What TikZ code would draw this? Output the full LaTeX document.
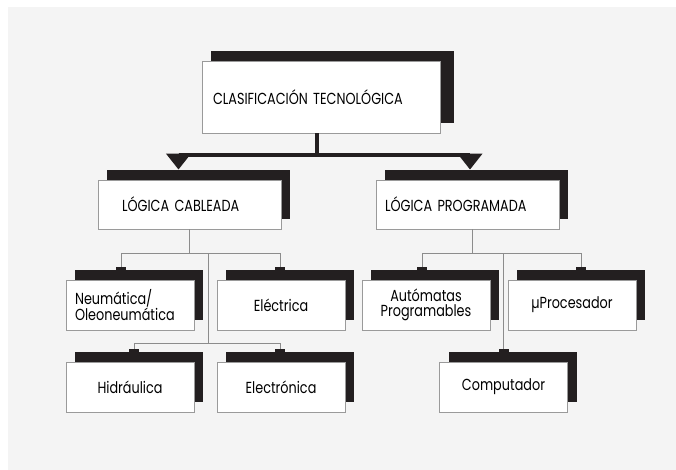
\documentclass[tikz,border=0pt]{standalone}
\usepackage{fontspec}
\setmainfont{Poppins}[FakeStretch=0.8]
\usetikzlibrary{arrows.meta,shadows}
\definecolor{fondo}{HTML}{F4F4F4}
\definecolor{sombra}{HTML}{231F20}
\definecolor{borde}{HTML}{9A9A9A}
\definecolor{linea}{HTML}{8C8C8C}

\begin{document}
\begin{tikzpicture}[x=1pt, y=-1pt,
  caja/.style={draw=borde, line width=0.8pt, fill=white, inner ysep=0pt,
    minimum height=50pt,
    general shadow={fill=sombra, draw=none, shadow xshift=9pt, shadow yshift=10pt}},
  grande/.style={caja, align=left, font=\fontsize{16}{16}\selectfont},
  chica/.style={caja, minimum width=128pt, inner xsep=0pt, align=center,
    font=\fontsize{16}{15}\selectfont},
  bus/.style={line width=4pt, draw=sombra, -{Triangle[length=16pt 0, width=24pt 0]}},
  linea/.style={line width=0.8pt, draw=linea},
  tab/.style={-{Rectangle[length=3pt 0, width=10pt 0, color=sombra]}}]

\useasboundingbox (0, 0) rectangle (676, 470);
\fill[white] (0, 0) rectangle (676, 470);
\fill[fondo] (8, 7) rectangle (676, 470);

\draw (321, 97) node[grande, minimum height=72pt, inner xsep=11pt, text width=216pt,
  general shadow={fill=sombra, shadow xshift=14pt, shadow yshift=10pt}] (clas) {CLASIFICACIÓN TECNOLÓGICA};

\draw (189.5, 204.5) node[grande, minimum height=49pt, inner xsep=24pt, text width=135pt] (cab) {LÓGICA CABLEADA};
\draw (467.5, 204.5) node[grande, minimum height=49pt, inner xsep=9pt, text width=165pt] (prog) {LÓGICA PROGRAMADA};

\draw (130, 305) node[chica, align=left, text width=110pt] (neu) {Neumática/\\Oleoneumática};
\draw (281, 305) node[chica] (ele) {Eléctrica};
\draw (130, 387) node[chica] (hid) {Hidráulica};
\draw (281, 387) node[chica] (elt) {Electrónica};
\draw (426, 305) node[chica] (aut) {Autómatas\\Programables};
\draw (572, 305) node[chica] (mic) {µProcesador};
\draw (503.5, 387) node[chica] (com) {Computador};

% tronco principal
\draw[line width=4pt, draw=sombra] ([xshift=-4pt]clas.south) -- ++(0, 22) coordinate (cc);
\draw[bus] (cc) -| ([xshift=-11pt, yshift=10pt]cab.north);
\draw[bus] (cc) -| ([xshift=2.5pt, yshift=10pt]prog.north);

% logica cableada
\draw[linea] (cab.south) -- ++(0, 24) coordinate (cb);
\draw[linea, tab] (cb) -| ([xshift=-9pt, yshift=10pt]neu.north);
\draw[linea, tab] (cb) -| ([xshift=-1pt, yshift=10pt]ele.north);
\draw[linea] ([xshift=19pt]cb) -- ++(0, 90) coordinate (cb2);
\draw[linea, tab] (cb2) -| ([xshift=4pt, yshift=10pt]hid.north);
\draw[linea, tab] (cb2) -| ([xshift=-1pt, yshift=10pt]elt.north);

% logica programada
\draw[linea] ([xshift=5pt]prog.south) -- ++(0, 24) coordinate (pb);
\draw[linea, tab] (pb) -| ([xshift=-4pt, yshift=10pt]aut.north);
\draw[linea, tab] (pb) -| ([xshift=9pt, yshift=10pt]mic.north);
\draw[linea, tab] (pb -| com.north) -- ([yshift=10pt]com.north);

\end{tikzpicture}
\end{document}
